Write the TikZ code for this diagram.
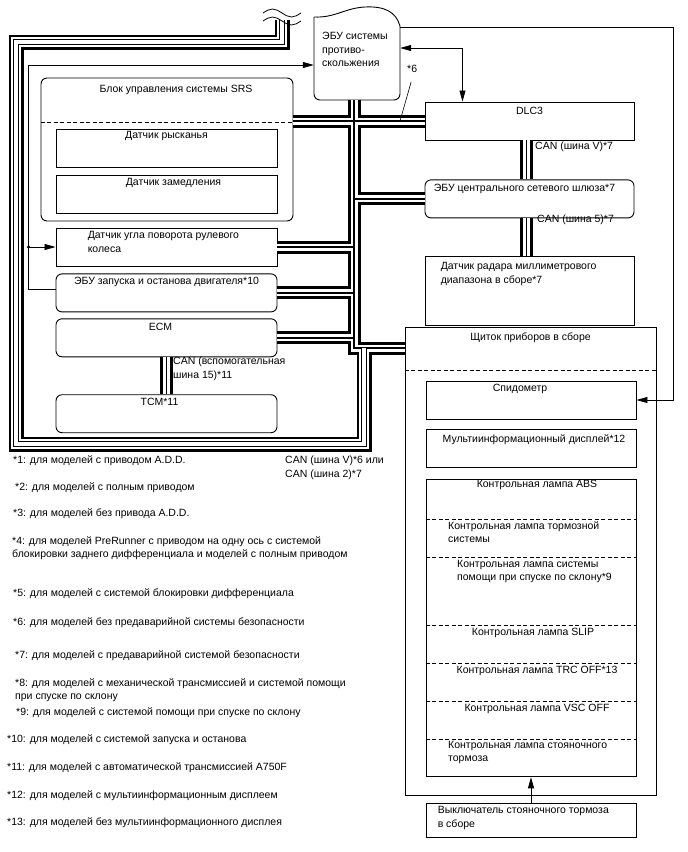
\documentclass[tikz,border=0pt]{standalone}
\usepackage{fontspec}
\setmainfont{Liberation Sans}
\usetikzlibrary{arrows.meta,positioning}

\begin{document}
\begin{tikzpicture}[
  x=1pt, y=-1pt,
  font=\fontsize{10.5}{13.5}\selectfont,
  box/.style={draw, line width=0.9pt, minimum width=221pt, minimum height=38pt, inner sep=0pt},
  rbox/.style={box, rounded corners=6pt},
  ttl/.style={anchor=north, align=center, inner sep=0pt},
  lttl/.style={anchor=north west, align=left, inner sep=0pt},
  note/.style={anchor=north west, align=left, inner sep=0pt},
  sep/.style={line width=0.8pt, dash pattern=on 4pt off 2.5pt},
  arrow/.style={->, >={Triangle[length=11pt, width=6pt]}, line width=0.8pt}
]
\useasboundingbox (0,0) rectangle (688,852);

% left column
\node[rbox, minimum width=252pt, minimum height=143pt,
  label={[ttl, xshift=9pt, yshift=-7pt]north:Блок управления системы SRS}] (srs) at (167,149.5) {};
\draw[sep] ([yshift=-45pt]srs.north west) -- ([yshift=-45pt]srs.north east);
\node[box, label={[ttl, yshift=-3pt]north:Датчик рысканья}] (yaw) at (166.5,148) {};
\node[box, below=8pt of yaw, label={[ttl, xshift=7pt, yshift=-3pt]north:Датчик замедления}] (dec) {};
\node[box, label={[lttl, xshift=32pt, yshift=-4pt]north west:{Датчик угла поворота рулевого\\колеса}}] (steer) at (166.5,247) {};
\node[rbox, below=7pt of steer, label={[ttl, yshift=-4pt]north:ЭБУ запуска и останова двигателя*10}] (ss) {};
\node[rbox, below=6pt of ss, label={[ttl, xshift=-6pt, yshift=-5pt]north:ECM}] (ecm) {};
\node[rbox, below=37pt of ecm, label={[ttl, xshift=-7pt, yshift=-4pt]north:TCM*11}] (tcm) {};

% skid control ECU
\node[minimum width=86pt, minimum height=80pt, inner sep=0pt] (abs) at (357,60) {};
\draw[line width=0.9pt, rounded corners=6pt] (314,17) -- (314,100) -- (400,100) -- (400,26);
\draw[line width=0.9pt] (314,17) .. controls (335,18) and (345,8) .. (365,7) .. controls (385,6) and (396,12) .. (400,26);
\node[lttl] (abstxt) at (322,32) {ЭБУ системы\\противо-\\скольжения};

% right column
\node[box, minimum width=209pt, label={[ttl, yshift=-5pt]north:DLC3}] (dlc) at (529.5,121) {};
\node[rbox, minimum width=209pt, below=39pt of dlc, label={[ttl, xshift=-5pt, yshift=-5pt]north:ЭБУ центрального сетевого шлюза*7}] (gw) {};
\node[box, minimum width=209pt, minimum height=69pt, below=38pt of gw,
  label={[lttl, xshift=16pt, yshift=-6pt]north west:{Датчик радара миллиметрового\\диапазона в сборе*7}}] (radar) {};

\node[box, minimum width=251pt, minimum height=468pt, label={[ttl, yshift=-6pt]north:Щиток приборов в сборе}] (meter) at (530.5,561) {};
\draw[sep] ([yshift=-44pt]meter.north west) -- ([yshift=-44pt]meter.north east);
\node[box, minimum width=210pt, label={[ttl, xshift=-11pt, yshift=-3pt]north:Спидометр}] (speedo) at (531,400) {};
\node[box, minimum width=210pt, below=10pt of speedo, label={[ttl, xshift=3pt, yshift=-5pt]north:Мультиинформационный дисплей*12}] (mfd) {};
\node[box, minimum width=210pt, minimum height=297pt, below=11pt of mfd] (lamps) {};
\foreach \d in {40,78,146,184,222,260}
  \draw[sep] ([yshift=-\d pt]lamps.north west) -- ([yshift=-\d pt]lamps.north east);
\node[ttl] (l1) at (537,480) {Контрольная лампа ABS};
\node[lttl] (l2) at (448,521) {Контрольная лампа тормозной\\системы};
\node[lttl] (l3) at (457,560) {Контрольная лампа системы\\помощи при спуске по склону*9};
\node[ttl] (l4) at (533,628) {Контрольная лампа SLIP};
\node[ttl] (l5) at (537,666) {Контрольная лампа TRC OFF*13};
\node[ttl] (l6) at (537,704) {Контрольная лампа VSC OFF};
\node[lttl] (l7) at (448,741) {Контрольная лампа стояночного\\тормоза};
\node[box, minimum width=210pt, minimum height=34pt,
  label={[lttl, xshift=12pt, yshift=-4pt]north west:{Выключатель стояночного тормоза\\в сборе}}] (pbs) at (531,820) {};

% CAN buses
\coordinate (tb) at (354,348);
\coordinate (brk) at (282,20);
\foreach \bw/\bc/\rw/\rc in {13pt/black/15pt/black, 7pt/white/10pt/white, 1.4pt/black/6pt/black, 1.4pt/black/3.6pt/white}{
  \draw[line width=\bw, color=\bc] (abs.south -| tb) -- (tb) -- (tb -| meter.west);
  \draw[line width=\bw, color=\bc] (srs.east |- dlc.west) -- (dlc.west);
  \draw[line width=\bw, color=\bc] (gw.west) -- (gw.west -| tb);
  \draw[line width=\bw, color=\bc] (steer.east) -- (steer.east -| tb);
  \draw[line width=\bw, color=\bc] (ss.east) -- (ss.east -| tb);
  \draw[line width=\bw, color=\bc] (ecm.east) -- (ecm.east -| tb);
  \draw[line width=\bw, color=\bc] (ecm.south) -- (tcm.north);
  \draw[line width=\bw, color=\bc] ([xshift=-3pt]dlc.south) -- ([xshift=-3pt]gw.north);
  \draw[line width=\bw, color=\bc] ([xshift=-3pt]gw.south) -- ([xshift=-3pt]radar.north);
  \draw[line width=\rw, color=\rc] (brk) -- (282,42) -- (16,42) -- (16,444) -- (364,444) -- (364,348);
}
\draw[line width=0.8pt] (263,13) sin (272.5,9) cos (282,13) sin (291.5,17) cos (301,13);
\draw[line width=0.8pt] (263,21) sin (272.5,17) cos (282,21) sin (291.5,25) cos (301,21);

% bus labels
\node[lttl] (s6) at (407,65) {*6};
\coordinate (b6) at (400,121);
\draw[line width=0.6pt] ([shift={(-1pt,-9pt)}]s6.south) -- (b6);
\node[lttl] (canv7) at (535,142) {CAN (шина V)*7};
\node[lttl] (can57) at (537,215) {CAN (шина 5)*7};
\node[lttl] (can15) at (173,357) {CAN (вспомогательная\\шина 15)*11};
\node[lttl] (canv6) at (285,456) {CAN (шина V)*6 или\\CAN (шина 2)*7};

% signal lines
\draw[arrow] ([yshift=33pt]abs.east) -- ++(273,0) |- (speedo.east);
\draw[arrow, <->] ([yshift=12pt]abs.east) -| ([xshift=-67pt]dlc.north);
\draw[arrow] ([yshift=4pt]ss.west) -- ++(-27,0) |- ([yshift=-5pt]abs.west);
\fill ([xshift=-27pt]steer.west) circle (1.8pt);
\draw[arrow] ([xshift=-27pt]steer.west) -- (steer.west);
\draw[arrow] (pbs.north) -- (pbs.north |- lamps.south);

% notes
\node[note] (n1) at (13,455) {*1: для моделей с приводом A.D.D.};
\node[note] (n2) at (15,482) {*2: для моделей с полным приводом};
\node[note] (n3) at (13,508) {*3: для моделей без привода A.D.D.};
\node[note] (n4) at (12,536) {*4: для моделей PreRunner с приводом на одну ось с системой\\блокировки заднего дифференциала и моделей с полным приводом};
\node[note] (n5) at (13,588) {*5: для моделей с системой блокировки дифференциала};
\node[note] (n6) at (13,617) {*6: для моделей без предаварийной системы безопасности};
\node[note] (n7) at (15,650) {*7: для моделей с предаварийной системой безопасности};
\node[note] (n8) at (15,678) {*8: для моделей с механической трансмиссией и системой помощи\\при спуске по склону};
\node[note] (n9) at (16,707) {*9: для моделей с системой помощи при спуске по склону};
\node[note] (n10) at (7,734) {*10: для моделей с системой запуска и останова};
\node[note] (n11) at (7,762) {*11: для моделей с автоматической трансмиссией A750F};
\node[note] (n12) at (7,790) {*12: для моделей с мультиинформационным дисплеем};
\node[note] (n13) at (7,817) {*13: для моделей без мультиинформационного дисплея};
\end{tikzpicture}
\end{document}
